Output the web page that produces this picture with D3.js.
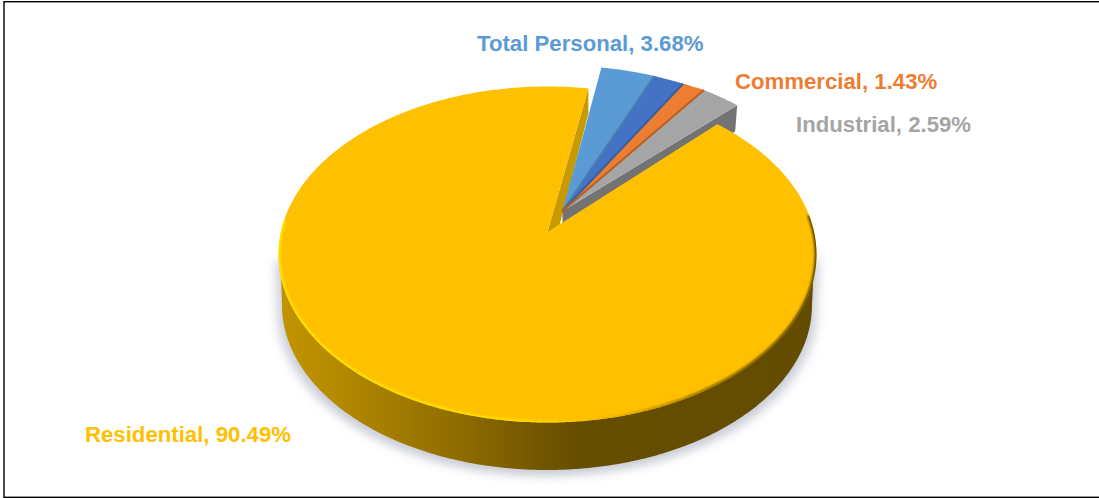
<!DOCTYPE html>
<html>
<head>
<meta charset="utf-8">
<script src="https://cdn.jsdelivr.net/npm/d3@7"></script>
<style>
  body { margin: 0; background: #fff; }
  svg { display: block; }
  .slice-label { font-family: "Liberation Sans", Arial, sans-serif; font-weight: bold; font-size: 22.2px; }
</style>
</head>
<body>
<div id="chart"></div>
<script>
// data (second blue slice has no label in the original)
var categories = ["Total Personal", "", "Commercial", "Industrial", "Residential"];
var shares = [3.68, 1.81, 1.43, 2.59, 90.49];

var sliceColors = ["#5B9BD5", "#4472C4", "#ED7D31", "#A5A5A5", "#FFC000"];
var edgeColors = ["#4A7FAF", "#37609F", "#B85F22", "#7F7F7F", "#C79A00"];
var labelAnchors = [[477, 51], null, [735, 89], [796, 132], [85, 442]];

var svgWidth = 1099;
var svgHeight = 498;

// top face of the pie, seen in perspective
var face = { cx: 547.5, cy: 254.5, rx: 269, ry: 168, tilt: 0.134 };
// lower rim of the wall
var base = { cx: 547, cy: 305, rx: 265, ry: 165 };
// the small slices are pulled out from the big one
var explode = { dx: 15, dy: -21 };
var rimDx = [13, 13, 17, 19, 20];
var rimDy = [-21, -21, -20, -20, -19];
var firstAngle = 10 * Math.PI / 180;

var svg = d3.select("#chart")
  .append("svg")
  .attr("width", svgWidth)
  .attr("height", svgHeight);

var defs = svg.append("defs");

function blur(id, amount) {
  defs.append("filter")
    .attr("id", id)
    .attr("x", "-10%").attr("y", "-10%")
    .attr("width", "120%").attr("height", "120%")
    .append("feGaussianBlur")
    .attr("stdDeviation", amount);
}
blur("soft", 5);
blur("rimBlur", 1.1);

function hGradient(id, x1, x2, stops) {
  var g = defs.append("linearGradient")
    .attr("id", id)
    .attr("gradientUnits", "userSpaceOnUse")
    .attr("x1", x1).attr("x2", x2)
    .attr("y1", 0).attr("y2", 0);
  stops.forEach(function(s) {
    g.append("stop").attr("offset", s[0]).attr("stop-color", s[1]);
  });
}

hGradient("wallFill", 278, 816, [
  [0, "#C39400"],
  [0.1, "#B68B00"],
  [0.3, "#957100"],
  [0.5, "#705500"],
  [0.56, "#664E00"],
  [1, "#634C00"]
]);

hGradient("rimFill", 278, 816, [
  [0, "#FFE600"],
  [0.45, "#FFE000"],
  [0.58, "#FFC000"],
  [0.66, "#E0A800"],
  [0.8, "#8F6E00"],
  [1, "#5C4600"]
]);

// true pie angle -> point on the rim of the projected circle
function rimPoint(angle, shift) {
  var u = Math.sin(angle);
  var v = Math.cos(angle);
  var w = 1 + face.tilt * v;
  var k = Math.sqrt(1 - face.tilt * face.tilt);
  return [
    face.cx + face.rx * u * k / w + (shift ? shift.dx : 0),
    face.cy - face.ry * (v + face.tilt) / w + (shift ? shift.dy : 0)
  ];
}

function apexPoint(shift) {
  return [
    face.cx + (shift ? shift.dx : 0),
    face.cy - face.ry * face.tilt + (shift ? shift.dy : 0)
  ];
}

var line = d3.line();

function basePoints(t0, t1) {
  var n = 200;
  return d3.range(n + 1).map(function(i) {
    var t = t0 + (t1 - t0) * i / n;
    return [base.cx + base.rx * Math.sin(t), base.cy - base.ry * Math.cos(t)];
  });
}

var pieData = d3.pie()
  .sort(null)
  .startAngle(firstAngle)
  .endAngle(firstAngle + 2 * Math.PI)(shares);

var big = pieData[4];
var small = pieData.slice(0, 4);

// the pull-out changes a little from slice to slice along the rim
var knots = [small[0].startAngle].concat(small.map(function(d) { return d.endAngle; }));
var shiftX = d3.scaleLinear().domain(knots).range(rimDx);
var shiftY = d3.scaleLinear().domain(knots).range(rimDy);

function smallRim(angle) {
  return rimPoint(angle, { dx: shiftX(angle), dy: shiftY(angle) });
}

function rimPoints(a0, a1, pointAt) {
  var n = Math.max(2, Math.ceil(Math.abs(a1 - a0) / 0.01));
  return d3.range(n + 1).map(function(i) {
    return pointAt(a0 + (a1 - a0) * i / n);
  });
}

// frame, its right side runs off the picture
svg.append("rect")
  .attr("x", 4).attr("y", 1.7)
  .attr("width", 1100).attr("height", 495.6)
  .attr("fill", "#fff")
  .attr("stroke", "#000")
  .attr("stroke-width", 1.4);

// soft shadow under the pie
var hull = [[face.cx - face.rx + 2, face.cy]]
  .concat(basePoints(-Math.PI / 2, -3 * Math.PI / 2))
  .concat([[face.cx + face.rx - 2, face.cy]]);

svg.append("path")
  .attr("d", line(hull) + "Z")
  .attr("transform", "translate(0,6) translate(547,305) scale(1.016,1) translate(-547,-305)")
  .attr("fill", "#BFC2CF")
  .attr("opacity", 0.85)
  .attr("filter", "url(#soft)");

// outer wall of the big slice
svg.append("path")
  .attr("d", line(hull) + "Z")
  .attr("fill", "url(#wallFill)");

// cut face of the big slice at its clockwise end
var bigEnd = rimPoint(big.endAngle);
var bigApex = apexPoint();
svg.append("path")
  .attr("d", line([bigApex, bigEnd, [bigEnd[0], bigEnd[1] + 25], [bigApex[0], bigApex[1] + 40]]) + "Z")
  .attr("fill", edgeColors[4]);

// end wall of the last small slice
var lastEnd = smallRim(small[3].endAngle);
var smallApex = apexPoint(explode);
svg.append("path")
  .attr("d", line([smallApex, lastEnd, [lastEnd[0] - 2, lastEnd[1] + 26], [smallApex[0], smallApex[1] + 45]]) + "Z")
  .attr("fill", "#737373");

// small slices, each with a dark strip on its clockwise side
svg.selectAll(".small-slice")
  .data(small)
  .enter()
  .append("path")
  .attr("class", "small-slice")
  .attr("d", function(d) {
    return line([smallApex].concat(rimPoints(d.startAngle, d.endAngle, smallRim))) + "Z";
  })
  .attr("fill", function(d) { return sliceColors[d.index]; });

svg.selectAll(".small-edge")
  .data(small.slice(0, 3))
  .enter()
  .append("path")
  .attr("class", "small-edge")
  .attr("d", function(d) {
    return line([smallApex, smallRim(d.endAngle)]);
  })
  .attr("fill", "none")
  .attr("stroke", function(d) { return edgeColors[d.index]; })
  .attr("stroke-width", 2);

// big slice top face
var bigPath = line([bigApex].concat(rimPoints(big.startAngle, big.endAngle, rimPoint))) + "Z";

defs.append("clipPath")
  .attr("id", "bigClip")
  .append("path")
  .attr("d", bigPath);

svg.append("path")
  .attr("d", bigPath)
  .attr("fill", sliceColors[4]);

// bevel along the front rim: bright on the left, dark on the right
svg.append("g")
  .attr("clip-path", "url(#bigClip)")
  .append("path")
  .attr("d", line(rimPoints(84 * Math.PI / 180, 274 * Math.PI / 180, rimPoint)))
  .attr("fill", "none")
  .attr("stroke", "url(#rimFill)")
  .attr("stroke-width", 4)
  .attr("filter", "url(#rimBlur)");

// labels
svg.selectAll(".slice-label")
  .data(pieData.filter(function(d) { return labelAnchors[d.index]; }))
  .enter()
  .append("text")
  .attr("class", "slice-label")
  .attr("x", function(d) { return labelAnchors[d.index][0]; })
  .attr("y", function(d) { return labelAnchors[d.index][1]; })
  .attr("fill", function(d) { return sliceColors[d.index]; })
  .text(function(d) { return categories[d.index] + ", " + d.value.toFixed(2) + "%"; });
</script>
</body>
</html>
